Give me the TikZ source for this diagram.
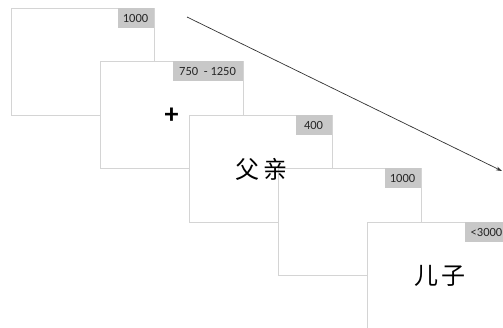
\documentclass[tikz,border=0pt]{standalone}
\usepackage{fontspec}
\setmainfont{Carlito}
\newfontfamily\cjk{Noto Sans CJK SC}
\usetikzlibrary{arrows.meta}
\definecolor{framegray}{HTML}{D4D4D4}
\definecolor{labgray}{HTML}{C8C8C8}
\definecolor{arrowgray}{HTML}{333333}
\tikzset{
  frame/.style={draw=framegray, line width=0.9pt, fill=white, anchor=north west,
    minimum width=143pt, minimum height=107pt, inner sep=0pt, outer sep=0pt},
  lab/.style={fill=labgray, anchor=north east, minimum width=36pt, minimum height=20pt,
    inner sep=2pt, outer sep=0pt, font=\fontsize{12.5}{13}\selectfont, text=black!85},
  cjktext/.style={font=\cjk\fontsize{24}{26}\selectfont, inner sep=0pt},
  flow/.style={draw=arrowgray, line width=0.7pt, -{Stealth[length=6pt,width=4pt]}}
}
\begin{document}
\begin{tikzpicture}[x=1pt,y=-1pt]
\useasboundingbox (0,0) rectangle (503,328);
\clip (0,0) rectangle (503,328);
\node[frame] (f1) at (11,8) {};
\node[lab] (l1) at ([xshift=-0.45pt,yshift=-0.45pt]f1.north east) {1000};
\node[frame] (f2) at (100,61) {};
\node[lab, minimum width=70pt] (l2) at ([xshift=-0.45pt,yshift=-0.45pt]f2.north east) {750\ \ - 1250};
\node[frame] (f3) at (189,115) {};
\node[lab] (l3) at ([xshift=-0.45pt,yshift=-0.45pt]f3.north east) {400};
\node[frame] (f4) at (278,168) {};
\node[lab] (l4) at ([xshift=-0.45pt,yshift=-0.45pt]f4.north east) {1000};
\node[frame] (f5) at (367,222) {};
\node[lab, minimum width=43pt, anchor=north west] (l5) at ([xshift=98pt,yshift=-0.45pt]f5.north west) {<3000};
\node[font=\bfseries\fontsize{28}{30}\selectfont, inner sep=0pt] (plus) at ([yshift=-1pt]f2.center) {+};
\node[cjktext] (t3) at ([xshift=1pt,yshift=-1pt]f3.center) {父\hspace{5pt}亲};
\node[cjktext] (t5) at ([xshift=1pt]f5.center) {儿\hspace{3pt}子};
\coordinate (a1) at (187,17);
\coordinate (a2) at (502,171);
\draw[flow] (a1) -- (a2);
\end{tikzpicture}
\end{document}
